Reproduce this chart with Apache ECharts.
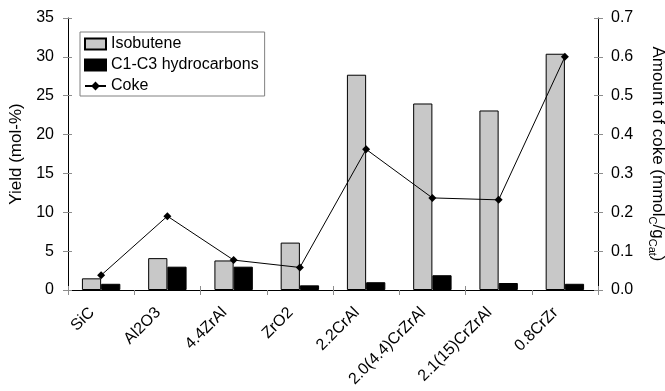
<!DOCTYPE html>
<html><head><meta charset="utf-8">
<script src="https://cdn.jsdelivr.net/npm/echarts@6/dist/echarts.min.js"></script>
<style>html,body{margin:0;padding:0;background:#fff}#c{width:665px;height:391px}</style>
</head><body><div id="c"></div>
<script>
const categories = ['SiC','Al2O3','4.4ZrAl','ZrO2','2.2CrAl','2.0(4.4)CrZrAl','2.1(15)CrZrAl','0.8CrZr'];
const isobutene = [1.5, 4.1, 3.8, 6.1, 27.7, 24.0, 23.1, 30.4];
const c1c3 = [0.8, 3.0, 3.0, 0.6, 1.0, 1.9, 0.9, 0.8];
const coke = [0.038, 0.19, 0.077, 0.058, 0.362, 0.237, 0.232, 0.60];
const leftTicks = {min:0, max:35, interval:5};
const rightTicks = {min:0, max:0.7, interval:0.1};

const F = 'Liberation Sans, Arial, sans-serif';
const TICK = '#8c8c8c';
const chart = echarts.init(document.getElementById('c'));
chart.setOption({
  animation:false,
  textStyle:{fontFamily:F, color:'#000'},
  grid:{left:68, right:67, top:18, bottom:101, containLabel:false, outerBoundsMode:'none'},
  legend:{
    orient:'vertical', left:80, top:32,
    backgroundColor:'#fff', borderColor:'#808080', borderWidth:1,
    padding:[4,6,2,4], itemGap:5, itemWidth:21, itemHeight:11,
    textStyle:{fontFamily:F, fontSize:16, color:'#000'},
    data:[{name:'Isobutene', icon:'rect'},{name:'C1-C3 hydrocarbons', icon:'rect'},'Coke']
  },
  xAxis:[{
    type:'category', data:categories,
    axisLine:{lineStyle:{color:'#000'}},
    axisTick:{show:true, length:5, lineStyle:{color:TICK}},
    axisLabel:{rotate:45, fontSize:16, color:'#000', fontFamily:F, interval:0, margin:11, padding:[0,13,0,0]}
  },{
    type:'category', data:categories, position:'bottom',
    axisLine:{show:false}, axisLabel:{show:false},
    axisTick:{show:true, inside:true, length:4, lineStyle:{color:TICK}}
  }],
  yAxis:[{
    type:'value', min:leftTicks.min, max:leftTicks.max, interval:leftTicks.interval,
    name:'Yield (mol-%)', nameLocation:'middle', nameGap:31,
    nameTextStyle:{fontSize:17, color:'#000', fontFamily:F},
    axisLine:{show:true, lineStyle:{color:'#000'}},
    axisTick:{show:true, length:5, lineStyle:{color:TICK}},
    splitLine:{show:false},
    axisLabel:{fontSize:16, color:'#000', fontFamily:F, margin:14}
  },{
    type:'value', min:rightTicks.min, max:rightTicks.max, interval:rightTicks.interval,
    position:'right',
    name:'Amount of coke (mmol{s|C}/g{s|Cat})', nameLocation:'middle', nameGap:49, nameRotate:-90,
    nameTextStyle:{fontSize:17, color:'#000', fontFamily:F,
      rich:{s:{fontSize:11, fontFamily:F, color:'#000', verticalAlign:'bottom', padding:[10,0,0,0]}}},
    axisLine:{show:true, lineStyle:{color:'#000'}},
    axisTick:{show:true, length:5, lineStyle:{color:TICK}},
    splitLine:{show:false},
    axisLabel:{fontSize:16, color:'#000', fontFamily:F, margin:13, formatter:v=>v.toFixed(1)}
  },{
    type:'value', min:leftTicks.min, max:leftTicks.max, interval:leftTicks.interval, position:'left',
    axisLine:{show:false}, axisLabel:{show:false}, splitLine:{show:false},
    axisTick:{show:true, inside:true, length:4, lineStyle:{color:TICK}}
  },{
    type:'value', min:rightTicks.min, max:rightTicks.max, interval:rightTicks.interval, position:'right',
    axisLine:{show:false}, axisLabel:{show:false}, splitLine:{show:false},
    axisTick:{show:true, inside:true, length:4, lineStyle:{color:TICK}}
  }],
  series:[{
    name:'Isobutene', type:'bar', data:isobutene, barGap:'0%', barCategoryGap:'42%',
    itemStyle:{color:'#c8c8c8', borderColor:'#000', borderWidth:1}
  },{
    name:'C1-C3 hydrocarbons', type:'bar', data:c1c3,
    itemStyle:{color:'#000', borderColor:'#000', borderWidth:1}
  },{
    name:'Coke', type:'line', yAxisIndex:1, data:coke,
    symbol:'diamond', symbolSize:8, z:5,
    lineStyle:{color:'#000', width:1}, itemStyle:{color:'#000'}
  }]
});
</script></body></html>
